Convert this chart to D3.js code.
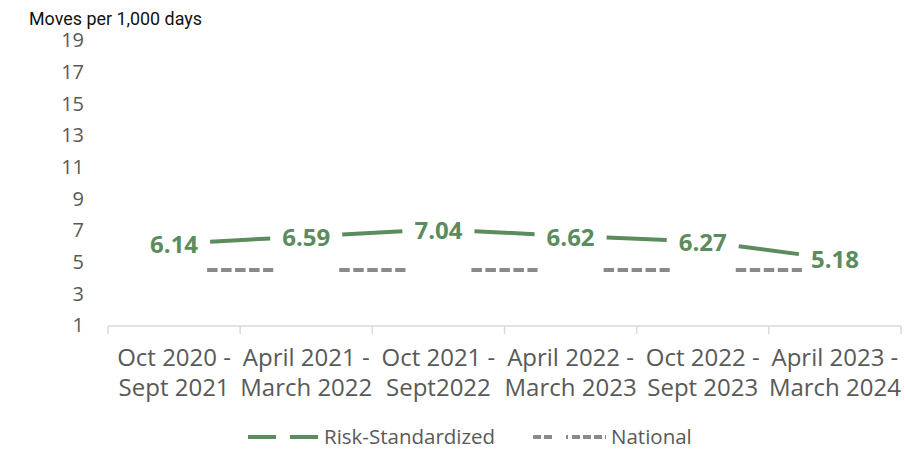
<!DOCTYPE html>
<html><head><meta charset="utf-8">
<script src="https://cdn.jsdelivr.net/npm/d3@7"></script>
<style>html,body{margin:0;padding:0;background:#fff;}svg{display:block;}</style>
</head><body>
<svg id="chart" width="905" height="451"></svg>
<script>
const categories = [
  ["Oct 2020 -", "Sept 2021"],
  ["April 2021 -", "March 2022"],
  ["Oct 2021 -", "Sept2022"],
  ["April 2022 -", "March 2023"],
  ["Oct 2022 -", "Sept 2023"],
  ["April 2023 -", "March 2024"]
];
const riskStandardized = [6.14, 6.59, 7.04, 6.62, 6.27, 5.18];
const national = [4.47, 4.47, 4.47, 4.47, 4.47, 4.47];
const yTicks = [1, 3, 5, 7, 9, 11, 13, 15, 17, 19];
const yTitle = "Moves per 1,000 days";
const legendLabels = ["Risk-Standardized", "National"];

const svg = d3.select("#chart");
const green = "#5B8C5D", gray = "#8A8A8A", textGray = "#595959";

const x = d3.scaleBand().domain(d3.range(categories.length)).range([108, 901]);
const y = d3.scaleLinear().domain([1, 19]).range([325, 40]);
const cx = i => x(i) + x.bandwidth() / 2;

// y title
svg.append("text").attr("x", 29).attr("y", 25)
  .attr("font-family", "Roboto").attr("font-size", 18.5).attr("fill", "#111")
  .attr("textLength", 173).attr("lengthAdjust", "spacingAndGlyphs")
  .text(yTitle);

// y tick labels
svg.append("g").selectAll("text").data(yTicks).join("text")
  .attr("x", 84).attr("y", d => y(d)).attr("dy", "0.36em")
  .attr("text-anchor", "end").attr("font-family", "Open Sans").attr("font-size", 20)
  .attr("fill", textGray).text(d => d);

// x axis
const axisG = svg.append("g");
axisG.append("line").attr("x1", x.range()[0]).attr("x2", x.range()[1])
  .attr("y1", 326).attr("y2", 326).attr("stroke", "#d9d9d9").attr("stroke-width", 1.5);
const bounds = d3.range(categories.length + 1).map(i => i < categories.length ? x(i) : x.range()[1]);
axisG.selectAll("line.tk").data(bounds).join("line").attr("class", "tk")
  .attr("x1", d => d).attr("x2", d => d).attr("y1", 326).attr("y2", 334)
  .attr("stroke", "#d9d9d9").attr("stroke-width", 1.5);
const catG = axisG.selectAll("text.cat").data(categories).join("text").attr("class", "cat")
  .attr("text-anchor", "middle").attr("font-family", "Open Sans").attr("font-size", 24)
  .attr("fill", textGray);
catG.each(function(d, i) {
  const t = d3.select(this);
  d.forEach((line, j) => {
    t.append("tspan").attr("x", cx(i)).attr("y", 366 + j * 30).text(line);
  });
});

// segments with gaps around points
function segments(vals, gap) {
  const segs = [];
  for (let i = 0; i < vals.length - 1; i++) {
    const x0 = cx(i), x1 = cx(i + 1), y0 = y(vals[i]), y1 = y(vals[i + 1]);
    const t0 = gap / (x1 - x0), t1 = 1 - t0;
    segs.push([[x0 + (x1 - x0) * t0, y0 + (y1 - y0) * t0], [x0 + (x1 - x0) * t1, y0 + (y1 - y0) * t1]]);
  }
  return segs;
}
const line = d3.line();

svg.append("g").selectAll("path").data(segments(national, 33)).join("path")
  .attr("d", line).attr("fill", "none").attr("stroke", gray).attr("stroke-width", 4)
  .attr("stroke-dasharray", "10.5,3.5");

svg.append("g").selectAll("path").data(segments(riskStandardized, 36)).join("path")
  .attr("d", line).attr("fill", "none").attr("stroke", green).attr("stroke-width", 4);

// data labels
svg.append("g").selectAll("text").data(riskStandardized).join("text")
  .attr("x", (d, i) => cx(i)).attr("y", d => y(d) + 1).attr("dy", "0.36em")
  .attr("text-anchor", "middle").attr("font-family", "Open Sans").attr("font-weight", 700)
  .attr("font-size", 24).attr("fill", green).text(d => d.toFixed(2));

// legend
const lg = svg.append("g");
lg.append("line").attr("x1", 248).attr("x2", 276).attr("y1", 437).attr("y2", 437)
  .attr("stroke", green).attr("stroke-width", 4);
lg.append("line").attr("x1", 290).attr("x2", 318).attr("y1", 437).attr("y2", 437)
  .attr("stroke", green).attr("stroke-width", 4);
lg.append("text").attr("x", 324).attr("y", 437).attr("dy", "0.36em")
  .attr("font-family", "Open Sans").attr("font-size", 20.5).attr("fill", textGray)
  .text(legendLabels[0]);
lg.append("line").attr("x1", 533).attr("x2", 553).attr("y1", 437).attr("y2", 437)
  .attr("stroke", gray).attr("stroke-width", 4).attr("stroke-dasharray", "8,3");
lg.append("line").attr("x1", 566).attr("x2", 568).attr("y1", 437).attr("y2", 437)
  .attr("stroke", gray).attr("stroke-width", 4);
lg.append("line").attr("x1", 572).attr("x2", 606).attr("y1", 437).attr("y2", 437)
  .attr("stroke", gray).attr("stroke-width", 4).attr("stroke-dasharray", "8,3");
lg.append("text").attr("x", 611).attr("y", 437).attr("dy", "0.36em")
  .attr("font-family", "Open Sans").attr("font-size", 20.5).attr("fill", textGray)
  .text(legendLabels[1]);
</script>
</body></html>
